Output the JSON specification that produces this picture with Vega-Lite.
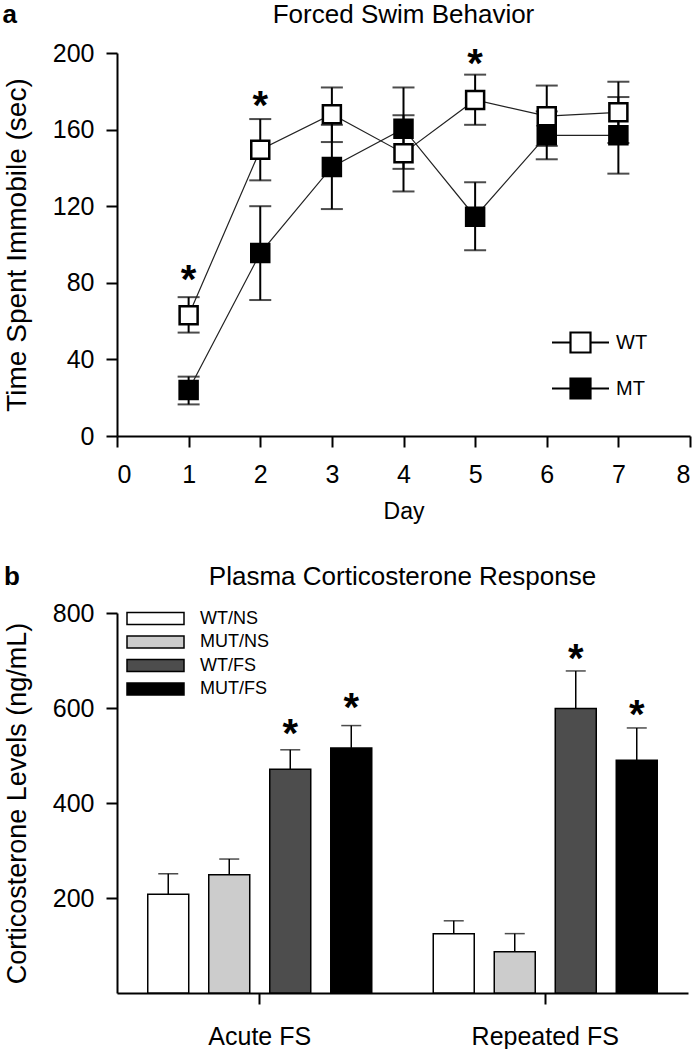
{
  "$schema": "https://vega.github.io/schema/vega-lite/v6.json",
  "padding": {"left": 2, "top": 1, "right": 5, "bottom": 0},
  "spacing": 40,
  "config": {
    "view": {"stroke": null},
    "font": "Liberation Sans",
    "axis": {
      "grid": false,
      "domainColor": "black",
      "domainWidth": 2,
      "tickColor": "black",
      "tickWidth": 2,
      "tickSize": 11,
      "labelColor": "black",
      "labelFontSize": 25,
      "titleColor": "black",
      "titleFontWeight": "normal"
    },
    "title": {"fontWeight": "normal", "color": "black"}
  },
  "resolve": {"scale": {"x": "independent", "y": "independent", "fill": "independent"}, "legend": {"fill": "independent"}},
  "vconcat": [
    {
      "width": 573,
      "height": 383,
      "title": {"text": "Forced  Swim  Behavior", "fontSize": 26, "offset": -26},
      "data": {
        "values": [
          {"day": 1, "group": "WT", "mean": 63, "lo": 54, "hi": 72.5},
          {"day": 2, "group": "WT", "mean": 149.5, "lo": 133.5, "hi": 165.5},
          {"day": 3, "group": "WT", "mean": 168, "lo": 153.5, "hi": 182},
          {"day": 4, "group": "WT", "mean": 147.7, "lo": 127.7, "hi": 167.5},
          {"day": 5, "group": "WT", "mean": 175.5, "lo": 162.5, "hi": 188.7},
          {"day": 6, "group": "WT", "mean": 167, "lo": 151.5, "hi": 183},
          {"day": 7, "group": "WT", "mean": 169, "lo": 153, "hi": 185},
          {"day": 1, "group": "MT", "mean": 24, "lo": 16.5, "hi": 31},
          {"day": 2, "group": "MT", "mean": 95.5, "lo": 71, "hi": 120},
          {"day": 3, "group": "MT", "mean": 140.5, "lo": 118.5, "hi": 162.5},
          {"day": 4, "group": "MT", "mean": 160.5, "lo": 139.5, "hi": 182},
          {"day": 5, "group": "MT", "mean": 114.5, "lo": 97, "hi": 132.5},
          {"day": 6, "group": "MT", "mean": 157, "lo": 144.5, "hi": 169.5},
          {"day": 7, "group": "MT", "mean": 157, "lo": 137, "hi": 177}
        ]
      },
      "encoding": {
        "x": {
          "field": "day", "type": "quantitative", "title": "Day",
          "scale": {"domain": [0, 8], "nice": false},
          "axis": {"values": [0, 1, 2, 3, 4, 5, 6, 7, 8], "titleFontSize": 23, "labelPadding": 15, "titlePadding": 13}
        },
        "y": {
          "field": "mean", "type": "quantitative", "title": "Time Spent Immobile (sec)",
          "scale": {"domain": [0, 200], "nice": false},
          "axis": {"values": [0, 40, 80, 120, 160, 200], "titleFontSize": 28, "labelPadding": 12, "titlePadding": 21}
        }
      },
      "layer": [
        {
          "mark": {"type": "rule", "color": "black", "strokeWidth": 2},
          "encoding": {"y": {"field": "lo", "type": "quantitative"}, "y2": {"field": "hi"}}
        },
        {
          "mark": {"type": "tick", "orient": "horizontal", "color": "black", "size": 22, "thickness": 2},
          "encoding": {"y": {"field": "lo", "type": "quantitative"}}
        },
        {
          "mark": {"type": "tick", "orient": "horizontal", "color": "black", "size": 22, "thickness": 2},
          "encoding": {"y": {"field": "hi", "type": "quantitative"}}
        },
        {
          "mark": {"type": "line", "color": "#222222", "strokeWidth": 1.2},
          "encoding": {"detail": {"field": "group"}}
        },
        {
          "mark": {"type": "point", "shape": "square", "size": 324, "filled": true, "opacity": 1, "stroke": "black", "strokeWidth": 2.5},
          "encoding": {
            "order": {"field": "group", "sort": "ascending"},
            "fill": {
              "field": "group", "type": "nominal",
              "scale": {"domain": ["WT", "MT"], "range": ["white", "black"]},
              "legend": {
                "orient": "none", "legendX": 452, "legendY": 278, "title": null, "padding": 0,
                "symbolType": "M-2.85,0H-1M1,0H2.85M-1,-1H1V1H-1Z",
                "symbolSize": 400, "symbolStrokeColor": "black", "symbolStrokeWidth": 2.2,
                "labelFontSize": 20, "labelColor": "black", "labelOffset": 24, "rowPadding": 17
              }
            }
          }
        },
        {
          "data": {"values": [{"day": 1, "star": 86}, {"day": 2, "star": 177}, {"day": 5, "star": 199}]},
          "mark": {"type": "text", "text": "*", "fontSize": 40, "fontWeight": "bold", "baseline": "alphabetic", "dy": 22, "color": "black"},
          "encoding": {"y": {"field": "star", "type": "quantitative"}}
        },
        {
          "data": {"values": [{"day": -1.6, "mean": 220, "panel": "a"}]},
          "mark": {"type": "text", "fontSize": 26, "fontWeight": "bold", "align": "left", "baseline": "middle", "color": "black", "clip": false},
          "encoding": {"text": {"field": "panel", "type": "nominal"}}
        }
      ]
    },
    {
      "width": 571,
      "height": 380,
      "title": {"text": "Plasma Corticosterone  Response", "fontSize": 26, "offset": -26},
      "data": {
        "values": [
          {"cond": "Acute FS", "group": "WT/NS", "value": 208, "err": 251},
          {"cond": "Acute FS", "group": "MUT/NS", "value": 249, "err": 282},
          {"cond": "Acute FS", "group": "WT/FS", "value": 471, "err": 512, "star": 564},
          {"cond": "Acute FS", "group": "MUT/FS", "value": 516, "err": 563, "star": 619},
          {"cond": "Repeated FS", "group": "WT/NS", "value": 125, "err": 152},
          {"cond": "Repeated FS", "group": "MUT/NS", "value": 87, "err": 125},
          {"cond": "Repeated FS", "group": "WT/FS", "value": 599, "err": 678, "star": 722},
          {"cond": "Repeated FS", "group": "MUT/FS", "value": 490, "err": 558, "star": 604}
        ]
      },
      "encoding": {
        "x": {
          "field": "cond", "type": "nominal", "title": null, "sort": null,
          "scale": {"paddingInner": 0, "paddingOuter": 0},
          "axis": {"labelAngle": 0, "labelPadding": 20}
        },
        "xOffset": {
          "field": "group", "type": "nominal", "sort": ["WT/NS", "MUT/NS", "WT/FS", "MUT/FS"],
          "scale": {"paddingInner": 0.328, "paddingOuter": 0.504}
        }
      },
      "layer": [
        {
          "mark": {"type": "bar", "stroke": "black", "strokeWidth": 1.5},
          "encoding": {
            "y": {
              "field": "value", "type": "quantitative", "title": "Corticosterone Levels (ng/mL)",
              "scale": {"domain": [0, 800], "nice": false},
              "axis": {"values": [200, 400, 600, 800], "titleFontSize": 27, "labelPadding": 12, "titlePadding": 21}
            },
            "fill": {
              "field": "group", "type": "nominal",
              "scale": {"domain": ["WT/NS", "MUT/NS", "WT/FS", "MUT/FS"], "range": ["white", "#cccccc", "#4d4d4d", "black"]},
              "legend": {
                "orient": "none", "legendX": 29.5, "legendY": -3.5, "title": null, "padding": 0,
                "symbolType": "M-4.75,-1H4.75V1H-4.75Z",
                "symbolSize": 144, "symbolStrokeColor": "black", "symbolStrokeWidth": 1.5,
                "labelFontSize": 18, "labelColor": "black", "labelOffset": 35.5, "rowPadding": 5.5
              }
            }
          }
        },
        {
          "mark": {"type": "rule", "color": "black", "strokeWidth": 1.5},
          "encoding": {"y": {"field": "value", "type": "quantitative"}, "y2": {"field": "err"}}
        },
        {
          "mark": {"type": "tick", "orient": "horizontal", "color": "black", "size": 20, "thickness": 1.5},
          "encoding": {"y": {"field": "err", "type": "quantitative"}}
        },
        {
          "transform": [{"filter": "isValid(datum.star)"}],
          "mark": {"type": "text", "text": "*", "fontSize": 40, "fontWeight": "bold", "baseline": "alphabetic", "dy": 22, "color": "black"},
          "encoding": {"y": {"field": "star", "type": "quantitative"}}
        },
        {
          "data": {"values": [{"panel": "b"}]},
          "mark": {"type": "text", "fontSize": 26, "fontWeight": "bold", "align": "left", "baseline": "middle", "color": "black", "clip": false, "dx": -113},
          "encoding": {
            "text": {"field": "panel"},
            "x": {"datum": "Acute FS", "bandPosition": 0},
            "xOffset": {"value": 0},
            "y": {"datum": 876}
          }
        }
      ]
    }
  ]
}
